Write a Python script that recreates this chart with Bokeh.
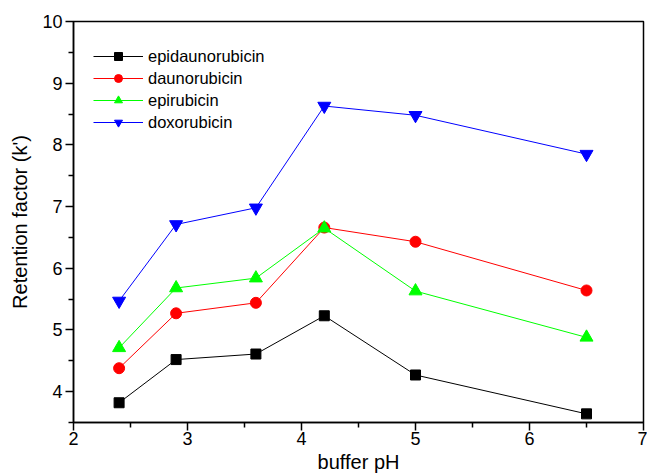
from bokeh.plotting import figure
from bokeh.models import Range1d, Legend, LegendItem, FixedTicker
from bokeh.embed import file_html
from bokeh.resources import INLINE

ph = [2.4, 2.9, 3.6, 4.2, 5.0, 6.5]
epidaunorubicin = [3.82, 4.52, 4.61, 5.23, 4.27, 3.64]
daunorubicin = [4.38, 5.27, 5.44, 6.66, 6.43, 5.64]
epirubicin = [4.71, 5.68, 5.84, 6.65, 5.63, 4.88]
doxorubicin = [5.47, 6.71, 6.98, 8.63, 8.48, 7.85]

x_ticks = [2, 3, 4, 5, 6, 7]
y_ticks = [4, 5, 6, 7, 8, 9, 10]

FONT = "Liberation Sans"

p = figure(width=647, height=475, output_backend="svg", toolbar_location=None,
           x_range=Range1d(2, 7), y_range=Range1d(3.5, 10),
           min_border_left=73, min_border_right=4, min_border_top=21, min_border_bottom=52)
p.xgrid.visible = False
p.ygrid.visible = False
p.outline_line_color = "black"
p.outline_line_width = 1.5
p.background_fill_color = "white"

series = [
    ("epidaunorubicin", epidaunorubicin, "black", "square", 10),
    ("daunorubicin", daunorubicin, "#FF0000", "circle", 11),
    ("epirubicin", epirubicin, "#00FF00", "triangle", 13),
    ("doxorubicin", doxorubicin, "#0000FF", "inverted_triangle", 13),
]

items = []
for name, ys, col, mk, sz in series:
    r1 = p.line(ph, ys, line_color=col, line_width=1.0)
    r2 = p.scatter(ph, ys, marker=mk, size=sz, fill_color=col, line_color=col)
    items.append(LegendItem(label=name, renderers=[r1, r2]))

legend = Legend(items=items, location=(20, 290), border_line_color=None,
                background_fill_alpha=0, margin=0, padding=0,
                glyph_width=50, glyph_height=20, spacing=2, label_standoff=5,
                label_text_font=FONT, label_text_font_size="16.5px",
                label_text_color="black")
p.add_layout(legend, "center")

for ax in (p.xaxis[0], p.yaxis[0]):
    ax.axis_line_color = "black"
    ax.major_tick_line_color = "black"
    ax.minor_tick_line_color = "black"
    ax.axis_line_width = 1.5
    ax.major_tick_line_width = 1.5
    ax.minor_tick_line_width = 1.5
    ax.major_tick_in = 0
    ax.major_tick_out = 8
    ax.minor_tick_in = 0
    ax.minor_tick_out = 5
    ax.major_label_text_font = FONT
    ax.major_label_text_font_size = "18px"
    ax.major_label_text_color = "black"
    ax.axis_label_text_font = FONT
    ax.axis_label_text_font_size = "20px"
    ax.axis_label_text_font_style = "normal"
    ax.axis_label_text_color = "black"
    ax.major_label_standoff = 3

p.xaxis[0].ticker = FixedTicker(ticks=x_ticks, minor_ticks=[2.5, 3.5, 4.5, 5.5, 6.5])
p.yaxis[0].ticker = FixedTicker(ticks=y_ticks, minor_ticks=[3.5, 4.5, 5.5, 6.5, 7.5, 8.5, 9.5])
p.xaxis[0].axis_label = "buffer pH"
p.yaxis[0].axis_label = "Retention factor (k')"
p.xaxis[0].major_label_standoff = 1
p.xaxis[0].axis_label_standoff = 3
p.yaxis[0].axis_label_standoff = 8

open("out.html", "w").write(file_html(p, INLINE))
